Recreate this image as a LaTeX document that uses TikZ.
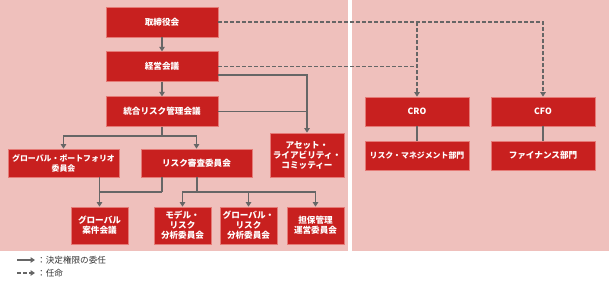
\documentclass[tikz,border=0pt]{standalone}
\usepackage{fontspec}
\newfontfamily\jp{Noto Sans CJK JP}
\usetikzlibrary{arrows.meta}
\definecolor{panel}{HTML}{EFC0BC}
\definecolor{boxred}{HTML}{C8201F}
\definecolor{boxedge}{HTML}{E57A76}
\definecolor{conn}{HTML}{666666}
\tikzset{
  orgbox/.style={draw=boxedge, line width=0.8pt, fill=boxred, text=white, inner sep=0pt,
    align=center, font=\jp\bfseries\fontsize{8.6}{10}\selectfont},
  narrowtext/.style={font=\jp\bfseries\fontsize{7.9}{10}\selectfont},
  link/.style={draw=conn, line width=1.2pt},
  tiparrow/.style={link, -{Triangle[length=4.5pt,width=5.5pt]}},
  appoint/.style={tiparrow, dash pattern=on 4pt off 2pt},
  legendtext/.style={anchor=west, inner sep=0pt, text=black!80, font=\jp\fontsize{8.6}{10}\selectfont}
}
\begin{document}
\begin{tikzpicture}[x=1pt, y=-1pt]
\useasboundingbox (0,0) rectangle (612,285);
\fill[panel] (0,0) rectangle (347.5,250.5);
\fill[panel] (352,0) rectangle (609,250.5);
% boxes
\node[orgbox, minimum width=112pt, minimum height=30pt] (b1) at (162,22) {取締役会};
\node[orgbox, minimum width=112pt, minimum height=29.5pt] (b2) at (162,66.5) {経営会議};
\node[orgbox, minimum width=112pt, minimum height=29.5pt] (b3) at (162,111.5) {統合リスク管理会議};
\node[orgbox, narrowtext, minimum width=111pt, minimum height=28pt] (gp) at (63.5,163) {グローバル・ポートフォリオ\\委員会};
\node[orgbox, minimum width=111pt, minimum height=28pt] (rs) at (196.5,163) {リスク審査委員会};
\node[orgbox, minimum width=74pt, minimum height=44pt] (al) at (307,155) {アセット・\\ライアビリティ・\\コミッティー};
\node[orgbox, minimum width=57pt, minimum height=37pt] (ga) at (99.5,225.5) {グローバル\\案件会議};
\node[orgbox, minimum width=57pt, minimum height=37pt] (mr) at (182.5,225.5) {モデル・\\リスク\\分析委員会};
\node[orgbox, minimum width=57pt, minimum height=37pt] (gr) at (248.5,225.5) {グローバル・\\リスク\\分析委員会};
\node[orgbox, minimum width=57pt, minimum height=37pt] (tm) at (315.5,225.5) {担保管理\\運営委員会};
\node[orgbox, minimum width=104pt, minimum height=29pt] (cro) at (417,111.5) {CRO};
\node[orgbox, minimum width=104pt, minimum height=29pt] (cfo) at (543,111.5) {CFO};
\node[orgbox, narrowtext, minimum width=104pt, minimum height=29pt] (rm) at (417,155.5) {リスク・マネジメント部門};
\node[orgbox, minimum width=104pt, minimum height=29pt] (fn) at (543,155.5) {ファイナンス部門};
% junction coordinates
\coordinate (j1) at (162,136);
\coordinate (j2) at (162,192);
\coordinate (j3) at (197,192);
% solid connectors
\draw[tiparrow] (b1) -- (b2);
\draw[tiparrow] (b2) -- (b3);
\draw[tiparrow] (b2.east |- 0,75) -- (al.north |- 0,75) -- (al.north);
\draw[link] (b3.east) -- (al.north |- b3.east);
\draw[link] (b3.south) -- (j1);
\draw[tiparrow] (j1) -| (gp.north);
\draw[tiparrow] (j1) -| (rs.north);
\draw[link] (rs.south -| j2) -- (j2);
\draw[tiparrow] (gp.south -| ga.north) -- (ga.north);
\draw[link] (j2) -- (ga.north |- j2);
\draw[link] (rs.south -| j3) -- (j3);
\draw[tiparrow] (j3) -| (mr.north);
\draw[tiparrow] (j3) -| (gr.north);
\draw[tiparrow] (j3) -| (tm.north);
\draw[link] (cro) -- (rm);
\draw[link] (cfo) -- (fn);
% appointment (dashed)
\draw[appoint] (b1.east) -| (cfo.north);
\draw[appoint] (cro.north |- b1.east) -- (cro.north);
\draw[link, dash pattern=on 4pt off 2pt] (b2.east) -- (cro.north |- b2.east);
% legend
\coordinate (l1a) at (17,260);
\coordinate (l1b) at (35,260);
\coordinate (l2a) at (17,273);
\coordinate (l2b) at (35,273);
\draw[tiparrow] (l1a) -- (l1b);
\draw[appoint] (l2a) -- (l2b);
\node[legendtext] (lt1) at (37,260) {：決定権限の委任};
\node[legendtext] (lt2) at (37,273) {：任命};
\end{tikzpicture}
\end{document}
